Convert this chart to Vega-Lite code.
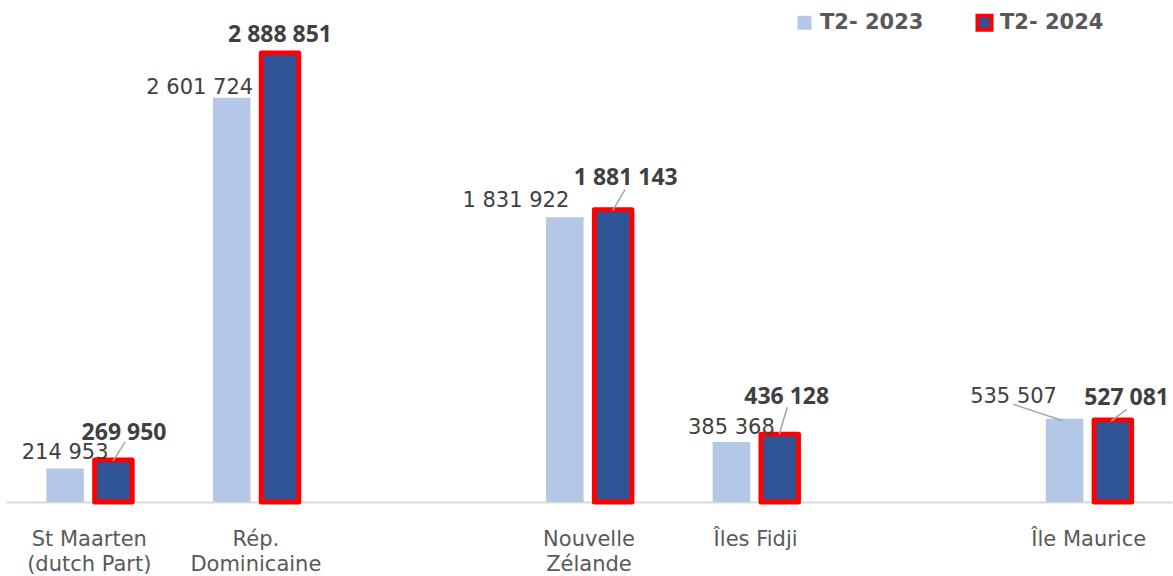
{
  "$schema": "https://vega.github.io/schema/vega-lite/v6.json",
  "width": 1166,
  "height": 502,
  "autosize": {"type": "none"},
  "padding": {"left": 6, "top": 0, "right": 1, "bottom": 74},
  "background": "white",
  "config": {
    "view": {"stroke": null},
    "font": "DejaVu Sans",
    "locale": {"number": {"decimal": ",", "thousands": " ", "grouping": [3], "currency": ["", " €"]}}
  },
  "data": {
    "values": [
      {"country": "St Maarten|(dutch Part)", "period": "T2- 2023", "value": 214953},
      {"country": "St Maarten|(dutch Part)", "period": "T2- 2024", "value": 269950},
      {"country": "Rép.|Dominicaine", "period": "T2- 2023", "value": 2601724},
      {"country": "Rép.|Dominicaine", "period": "T2- 2024", "value": 2888851},
      {"country": "Nouvelle|Zélande", "period": "T2- 2023", "value": 1831922},
      {"country": "Nouvelle|Zélande", "period": "T2- 2024", "value": 1881143},
      {"country": "Îles Fidji", "period": "T2- 2023", "value": 385368},
      {"country": "Îles Fidji", "period": "T2- 2024", "value": 436128},
      {"country": "Île Maurice", "period": "T2- 2023", "value": 535507},
      {"country": "Île Maurice", "period": "T2- 2024", "value": 527081}
    ]
  },
  "encoding": {
    "x": {
      "field": "country",
      "type": "nominal",
      "sort": null,
      "scale": {
        "domain": ["St Maarten|(dutch Part)", "Rép.|Dominicaine", "gap1", "Nouvelle|Zélande", "Îles Fidji", "gap2", "Île Maurice"],
        "paddingInner": 0.42,
        "paddingOuter": 0.21
      },
      "axis": {
        "title": null,
        "ticks": false,
        "domainColor": "#D9D9D9",
        "domainWidth": 2,
        "labelAngle": 0,
        "labelFont": "DejaVu Sans",
        "labelFontSize": 21,
        "labelColor": "#595959",
        "labelPadding": 26,
        "labelBaseline": "top",
        "labelLineHeight": 25,
        "labelExpr": "indexof(datum.value, 'gap') == 0 ? '' : split(datum.value, '|')"
      }
    },
    "y": {
      "field": "value",
      "type": "quantitative",
      "scale": {"domain": [0, 3230000], "nice": false, "zero": true},
      "axis": null
    }
  },
  "layer": [
    {
      "mark": {"type": "bar", "strokeWidth": 5, "strokeJoin": "round"},
      "encoding": {
        "xOffset": {"field": "period", "type": "nominal", "scale": {"paddingInner": 0.224, "paddingOuter": 0.112}},
        "color": {
          "field": "period",
          "type": "nominal",
          "scale": {"domain": ["T2- 2023", "T2- 2024"], "range": ["#B4C7E7", "#2F5597"]},
          "legend": {
            "title": null,
            "orient": "none",
            "direction": "horizontal",
            "legendX": 788,
            "legendY": 12,
            "symbolType": "square",
            "symbolSize": 196,
            "symbolStrokeWidth": 4,
            "labelFont": "DejaVu Sans",
            "labelFontWeight": "bold",
            "labelFontSize": 21,
            "labelColor": "#595959",
            "labelOffset": 5,
            "columnPadding": 45,
            "padding": 0
          }
        },
        "stroke": {
          "field": "period",
          "type": "nominal",
          "scale": {"domain": ["T2- 2023", "T2- 2024"], "range": ["transparent", "#FF0000"]},
          "legend": {
            "title": null,
            "orient": "none",
            "direction": "horizontal",
            "legendX": 788,
            "legendY": 12,
            "symbolType": "square",
            "symbolSize": 196,
            "symbolStrokeWidth": 4,
            "labelFont": "DejaVu Sans",
            "labelFontWeight": "bold",
            "labelFontSize": 21,
            "labelColor": "#595959",
            "labelOffset": 5,
            "columnPadding": 45,
            "padding": 0
          }
        }
      }
    },
    {"transform": [{"filter": "datum.value == 214953"}], "mark": {"type": "text", "dx": 0, "dy": -16, "fontSize": 21, "color": "#404040", "font": "DejaVu Sans"}, "encoding": {"xOffset": {"field": "period", "type": "nominal"}, "text": {"field": "value", "type": "quantitative", "format": ",d"}}},
    {"transform": [{"filter": "datum.value == 2601724"}], "mark": {"type": "text", "dx": -32, "dy": -10, "fontSize": 21, "color": "#404040", "font": "DejaVu Sans"}, "encoding": {"xOffset": {"field": "period", "type": "nominal"}, "text": {"field": "value", "type": "quantitative", "format": ",d"}}},
    {"transform": [{"filter": "datum.value == 1831922"}], "mark": {"type": "text", "dx": -49, "dy": -16, "fontSize": 21, "color": "#404040", "font": "DejaVu Sans"}, "encoding": {"xOffset": {"field": "period", "type": "nominal"}, "text": {"field": "value", "type": "quantitative", "format": ",d"}}},
    {"transform": [{"filter": "datum.value == 385368"}], "mark": {"type": "text", "dx": 0, "dy": -14, "fontSize": 21, "color": "#404040", "font": "DejaVu Sans"}, "encoding": {"xOffset": {"field": "period", "type": "nominal"}, "text": {"field": "value", "type": "quantitative", "format": ",d"}}},
    {"transform": [{"filter": "datum.value == 535507"}], "mark": {"type": "text", "dx": -51, "dy": -22, "fontSize": 21, "color": "#404040", "font": "DejaVu Sans"}, "encoding": {"xOffset": {"field": "period", "type": "nominal"}, "text": {"field": "value", "type": "quantitative", "format": ",d"}}},
    {"transform": [{"filter": "datum.value == 269950"}], "mark": {"type": "text", "dx": 10.6, "dy": -27, "fontSize": 23, "fontWeight": "bold", "color": "#404040", "font": "Open Sans"}, "encoding": {"xOffset": {"field": "period", "type": "nominal"}, "text": {"field": "value", "type": "quantitative", "format": ",d"}}},
    {"transform": [{"filter": "datum.value == 2888851"}], "mark": {"type": "text", "dx": 0, "dy": -18, "fontSize": 23, "fontWeight": "bold", "color": "#404040", "font": "Open Sans"}, "encoding": {"xOffset": {"field": "period", "type": "nominal"}, "text": {"field": "value", "type": "quantitative", "format": ",d"}}},
    {"transform": [{"filter": "datum.value == 1881143"}], "mark": {"type": "text", "dx": 12.6, "dy": -32, "fontSize": 23, "fontWeight": "bold", "color": "#404040", "font": "Open Sans"}, "encoding": {"xOffset": {"field": "period", "type": "nominal"}, "text": {"field": "value", "type": "quantitative", "format": ",d"}}},
    {"transform": [{"filter": "datum.value == 436128"}], "mark": {"type": "text", "dx": 7, "dy": -37, "fontSize": 23, "fontWeight": "bold", "color": "#404040", "font": "Open Sans"}, "encoding": {"xOffset": {"field": "period", "type": "nominal"}, "text": {"field": "value", "type": "quantitative", "format": ",d"}}},
    {"transform": [{"filter": "datum.value == 527081"}], "mark": {"type": "text", "dx": 13.7, "dy": -22, "fontSize": 23, "fontWeight": "bold", "color": "#404040", "font": "Open Sans"}, "encoding": {"xOffset": {"field": "period", "type": "nominal"}, "text": {"field": "value", "type": "quantitative", "format": ",d"}}},
    {"transform": [{"filter": "datum.value == 269950"}], "mark": {"type": "rule", "color": "#A6A6A6", "strokeWidth": 1.5, "xOffset": 23.7, "x2Offset": 35.7, "yOffset": 1, "y2Offset": -18}, "encoding": {"x2": {"field": "country"}, "y2": {"field": "value"}}},
    {"transform": [{"filter": "datum.value == 1881143"}], "mark": {"type": "rule", "color": "#A6A6A6", "strokeWidth": 1.5, "xOffset": 23.7, "x2Offset": 36, "yOffset": 1, "y2Offset": -20}, "encoding": {"x2": {"field": "country"}, "y2": {"field": "value"}}},
    {"transform": [{"filter": "datum.value == 436128"}], "mark": {"type": "rule", "color": "#A6A6A6", "strokeWidth": 1.5, "xOffset": 23.7, "x2Offset": 31.7, "yOffset": 0, "y2Offset": -27}, "encoding": {"x2": {"field": "country"}, "y2": {"field": "value"}}},
    {"transform": [{"filter": "datum.value == 535507"}], "mark": {"type": "rule", "color": "#A6A6A6", "strokeWidth": 1.5, "xOffset": -26, "x2Offset": -75.4, "yOffset": 2, "y2Offset": -14.5}, "encoding": {"x2": {"field": "country"}, "y2": {"field": "value"}}},
    {"transform": [{"filter": "datum.value == 527081"}], "mark": {"type": "rule", "color": "#A6A6A6", "strokeWidth": 1.5, "xOffset": 22.3, "x2Offset": 38, "yOffset": 1, "y2Offset": -10.8}, "encoding": {"x2": {"field": "country"}, "y2": {"field": "value"}}}
  ]
}
